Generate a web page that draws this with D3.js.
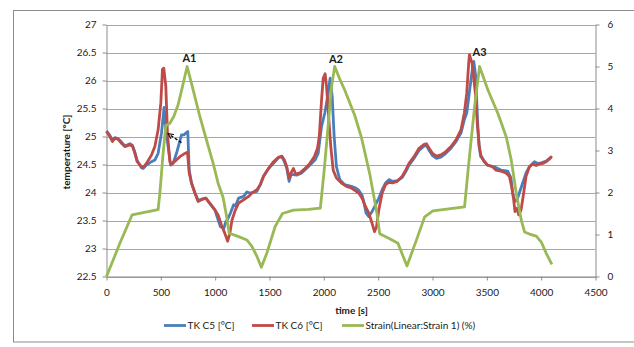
<!DOCTYPE html>
<html>
<head>
<meta charset="utf-8">
<script src="https://cdn.jsdelivr.net/npm/d3@7"></script>
<style>
  body { margin: 0; background: #fff; }
  svg text { font-family: Lato, "Open Sans", sans-serif; fill: #1a1a1a; }
</style>
</head>
<body>
<div id="chart"></div>
<script>
// axis ticks
const tempTicks = [22.5, 23, 23.5, 24, 24.5, 25, 25.5, 26, 26.5, 27];
const strainTicks = [0, 1, 2, 3, 4, 5, 6];
const timeTicks = [0, 500, 1000, 1500, 2000, 2500, 3000, 3500, 4000, 4500];

const seriesNames = ["TK C5 [°C]", "TK C6 [°C]", "Strain(Linear:Strain 1) (%)"];
const seriesColors = ["#4a7ebb", "#be4b48", "#98b954"];

// [time s, temperature °C]
const tkC5 = [[0,25.1],[31,25.02],[55,24.93],[77,24.98],[107,24.96],[138,24.9],[169,24.83],[215,24.87],[239,24.84],[261,24.72],[282,24.57],[322,24.44],[337,24.43],[368,24.49],[414,24.55],[445,24.58],[475,24.7],[506,25.06],[530,25.52],[543,25.18],[567,24.82],[590,24.49],[613,24.52],[644,24.7],[690,25.03],[712,25.03],[730,25.06],[748,25.09],[761,24.4],[782,24.17],[813,24.0],[843,23.86],[874,23.88],[914,23.9],[951,23.8],[997,23.69],[1027,23.51],[1049,23.39],[1080,23.36],[1098,23.48],[1110,23.5],[1140,23.63],[1170,23.78],[1186,23.76],[1216,23.9],[1262,23.93],[1292,24.01],[1320,23.99],[1384,24.02],[1415,24.14],[1445,24.29],[1491,24.43],[1537,24.52],[1582,24.62],[1613,24.64],[1637,24.55],[1659,24.43],[1680,24.2],[1698,24.32],[1720,24.32],[1750,24.31],[1796,24.35],[1857,24.46],[1918,24.58],[1948,24.7],[1979,25.18],[2009,25.42],[2040,25.77],[2058,26.04],[2077,25.71],[2095,25.0],[2116,24.46],[2147,24.23],[2192,24.14],[2253,24.11],[2284,24.09],[2321,24.04],[2352,23.95],[2367,23.84],[2389,23.63],[2414,23.57],[2444,23.66],[2475,23.78],[2506,23.9],[2537,24.05],[2568,24.17],[2599,24.23],[2630,24.2],[2676,24.21],[2722,24.27],[2753,24.37],[2784,24.49],[2830,24.61],[2876,24.75],[2923,24.83],[2944,24.84],[2969,24.75],[3000,24.66],[3037,24.61],[3077,24.63],[3123,24.7],[3170,24.79],[3216,24.91],[3262,25.06],[3293,25.3],[3315,25.42],[3346,25.89],[3370,26.25],[3380,26.34],[3398,26.07],[3414,25.3],[3429,24.82],[3444,24.64],[3506,24.49],[3568,24.46],[3630,24.4],[3692,24.38],[3722,24.26],[3738,23.99],[3759,23.84],[3778,23.87],[3799,23.99],[3830,24.17],[3861,24.35],[3892,24.46],[3938,24.55],[3969,24.52],[4000,24.53],[4046,24.56],[4092,24.63]];

const tkC6 = [[0,25.09],[31,25.0],[55,24.91],[77,24.97],[107,24.95],[138,24.88],[169,24.82],[215,24.85],[239,24.83],[261,24.7],[282,24.55],[322,24.46],[337,24.45],[368,24.52],[414,24.67],[445,24.82],[475,25.12],[500,25.6],[515,26.2],[527,26.22],[546,25.89],[561,25.06],[583,24.55],[598,24.51],[638,24.57],[675,24.64],[715,24.69],[745,24.72],[761,24.35],[782,24.17],[813,23.99],[843,23.84],[874,23.87],[914,23.9],[951,23.81],[997,23.69],[1027,23.6],[1058,23.42],[1089,23.27],[1115,23.13],[1135,23.27],[1155,23.51],[1186,23.69],[1216,23.81],[1262,23.87],[1308,23.93],[1338,23.99],[1384,24.05],[1415,24.14],[1445,24.29],[1491,24.43],[1537,24.55],[1582,24.63],[1613,24.65],[1637,24.58],[1659,24.46],[1680,24.26],[1698,24.35],[1720,24.43],[1741,24.33],[1781,24.35],[1826,24.43],[1872,24.52],[1912,24.64],[1942,24.79],[1958,25.0],[1979,25.65],[1994,26.04],[2012,26.12],[2025,25.89],[2046,25.3],[2064,24.82],[2086,24.4],[2116,24.26],[2162,24.17],[2208,24.11],[2253,24.08],[2275,24.05],[2321,23.99],[2352,23.9],[2383,23.75],[2414,23.63],[2444,23.45],[2466,23.3],[2485,23.39],[2506,23.69],[2537,23.99],[2568,24.14],[2599,24.18],[2630,24.17],[2676,24.2],[2722,24.29],[2753,24.4],[2784,24.52],[2830,24.64],[2876,24.79],[2923,24.86],[2944,24.87],[2969,24.79],[3000,24.7],[3037,24.65],[3077,24.67],[3123,24.73],[3170,24.82],[3216,24.94],[3262,25.12],[3293,25.42],[3315,25.77],[3333,26.31],[3340,26.46],[3364,26.31],[3383,25.98],[3398,25.71],[3414,25.18],[3429,24.85],[3444,24.67],[3475,24.55],[3506,24.49],[3552,24.46],[3583,24.4],[3630,24.38],[3676,24.35],[3707,24.29],[3728,24.11],[3747,23.87],[3759,23.66],[3778,23.72],[3793,23.6],[3815,23.69],[3839,23.99],[3861,24.29],[3892,24.46],[3923,24.51],[3954,24.48],[3985,24.51],[4015,24.52],[4046,24.55],[4077,24.6],[4099,24.65]];

// [time s, strain %]
const strain = [[0,0],[123,0.79],[236,1.47],[337,1.52],[429,1.57],[475,1.59],[491,1.98],[521,2.94],[546,3.59],[583,3.65],[619,3.81],[659,4.09],[699,4.52],[742,5.0],[782,4.6],[859,3.81],[920,3.25],[981,2.7],[1027,2.22],[1073,1.88],[1104,1.45],[1129,1.03],[1216,0.95],[1292,0.87],[1338,0.72],[1384,0.48],[1425,0.22],[1476,0.56],[1552,1.19],[1620,1.5],[1720,1.58],[1857,1.6],[1968,1.63],[2003,2.52],[2040,3.6],[2070,4.5],[2100,5.0],[2147,4.7],[2192,4.44],[2284,3.84],[2345,3.32],[2422,2.45],[2489,1.5],[2514,1.02],[2606,0.9],[2682,0.79],[2765,0.25],[2851,0.86],[2928,1.42],[3004,1.56],[3295,1.66],[3330,2.6],[3387,4.04],[3433,5.0],[3510,4.44],[3602,3.88],[3679,3.32],[3725,2.77],[3771,1.98],[3817,1.34],[3847,1.06],[3893,1.01],[3955,0.96],[4001,0.82],[4047,0.55],[4098,0.29]];

// peak annotations (time, strain of label baseline)
const peakLabels = ["A1", "A2", "A3"];
const peakLabelTime = [763, 2112, 3433];
const peakLabelStrain = [5.11, 5.09, 5.24];

// dashed arrow: [time, temperature]
const arrowFrom = [690, 24.89];
const arrowTo = [567, 25.05];

const width = 634, height = 347;
const plotLeft = 106.5, plotRight = 595.5, plotTop = 24.5, plotBottom = 276.5;

let svg = d3.select("#chart").append("svg")
    .attr("width", width)
    .attr("height", height);

// outer chart border
svg.append("rect")
    .attr("x", 13.5).attr("y", 10.5)
    .attr("width", 640).attr("height", 331.5)
    .attr("fill", "none")
    .attr("stroke", "#8c8c8c");

let x = d3.scaleLinear().domain([0, 4500]).range([plotLeft, plotRight]);
let yT = d3.scaleLinear().domain([22.5, 27]).range([plotBottom, plotTop]);
let yS = d3.scaleLinear().domain([0, 6]).range([plotBottom, plotTop]);

// horizontal gridlines
svg.append("g").selectAll("line")
    .data(tempTicks)
    .enter()
    .append("line")
    .attr("x1", plotLeft).attr("x2", plotRight)
    .attr("y1", d => Math.round(yT(d)) + 0.5)
    .attr("y2", d => Math.round(yT(d)) + 0.5)
    .attr("stroke", "#a6a6a6")
    .attr("stroke-width", 1);

function styleAxis(g) {
    g.selectAll("path, line").attr("stroke", "#8c8c8c");
    g.selectAll("text").attr("font-size", 10).attr("fill", "#1a1a1a");
}

svg.append("g")
    .attr("transform", `translate(${plotLeft},0)`)
    .call(d3.axisLeft(yT).tickValues(tempTicks).tickSize(4).tickSizeOuter(0).tickPadding(6).tickFormat(d3.format("")))
    .call(styleAxis);

svg.append("g")
    .attr("transform", `translate(${plotRight},0)`)
    .call(d3.axisRight(yS).tickValues(strainTicks).tickSize(4).tickSizeOuter(0).tickPadding(8).tickFormat(d3.format("d")))
    .call(styleAxis);

svg.append("g")
    .attr("transform", `translate(0,${plotBottom})`)
    .call(d3.axisBottom(x).tickValues(timeTicks).tickSize(4).tickSizeOuter(0).tickPadding(8).tickFormat(d3.format("d")))
    .call(styleAxis);

// series
let tempLine = d3.line().x(d => x(d[0])).y(d => yT(d[1]));
let strainLine = d3.line().x(d => x(d[0])).y(d => yS(d[1]));

[tkC5, tkC6].forEach((s, i) => {
    svg.append("path")
        .datum(s)
        .attr("d", tempLine)
        .attr("fill", "none")
        .attr("stroke", seriesColors[i])
        .attr("stroke-width", 2.8)
        .attr("stroke-linejoin", "round");
});

svg.append("path")
    .datum(strain)
    .attr("d", strainLine)
    .attr("fill", "none")
    .attr("stroke", seriesColors[2])
    .attr("stroke-width", 2.8)
    .attr("stroke-linejoin", "round");

// A1..A3
svg.append("g").selectAll("text")
    .data(peakLabels)
    .enter()
    .append("text")
    .attr("x", (d, i) => x(peakLabelTime[i]))
    .attr("y", (d, i) => yS(peakLabelStrain[i]))
    .attr("text-anchor", "middle")
    .attr("font-size", 11)
    .attr("font-weight", "bold")
    .text(d => d);

// dashed arrow
svg.append("defs").append("marker")
    .attr("id", "arrowhead")
    .attr("viewBox", "0 0 10 10")
    .attr("refX", 9).attr("refY", 5)
    .attr("markerWidth", 5).attr("markerHeight", 5)
    .attr("orient", "auto")
    .append("path")
    .attr("d", "M1,1 L9,5 L1,9")
    .attr("fill", "none")
    .attr("stroke", "#000")
    .attr("stroke-width", 1.6);

svg.append("line")
    .attr("x1", x(arrowFrom[0])).attr("y1", yT(arrowFrom[1]))
    .attr("x2", x(arrowTo[0])).attr("y2", yT(arrowTo[1]))
    .attr("stroke", "#000")
    .attr("stroke-width", 1.3)
    .attr("stroke-dasharray", "3,2")
    .attr("marker-end", "url(#arrowhead)");

// axis titles
svg.append("text")
    .attr("transform", "translate(70,152) rotate(-90)")
    .attr("text-anchor", "middle")
    .attr("font-size", 10)
    .attr("font-weight", "bold")
    .text("temperature [°C]");

svg.append("text")
    .attr("x", 351.5).attr("y", 314)
    .attr("text-anchor", "middle")
    .attr("font-size", 10)
    .attr("font-weight", "bold")
    .text("time [s]");

// legend
let legendX = [164, 252, 342];
let legend = svg.append("g").selectAll("g")
    .data(seriesNames)
    .enter()
    .append("g")
    .attr("transform", (d, i) => `translate(${legendX[i]},325.5)`);

legend.append("line")
    .attr("x1", 0).attr("x2", 22)
    .attr("stroke", (d, i) => seriesColors[i])
    .attr("stroke-width", 2.8);

legend.append("text")
    .attr("x", 23.5)
    .attr("dy", "0.35em")
    .attr("font-size", 10)
    .text(d => d);
</script>
</body>
</html>
